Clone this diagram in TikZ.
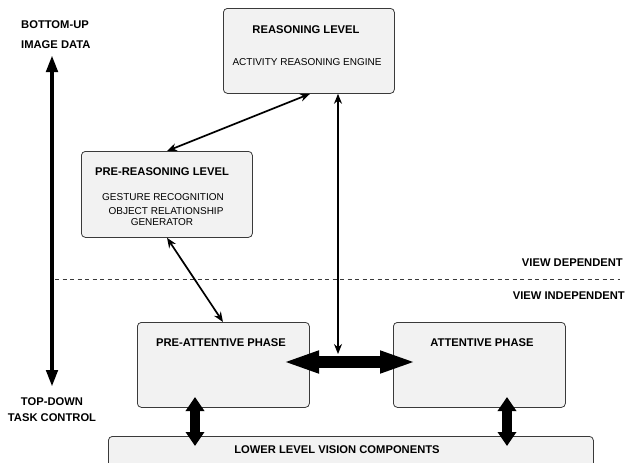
\documentclass[tikz,border=0pt]{standalone}
\usepackage{fontspec}
\setmainfont{Liberation Sans}
\usetikzlibrary{arrows.meta}
\definecolor{boxfill}{HTML}{F2F2F2}
\definecolor{boxline}{HTML}{3A3A3A}
\tikzset{
  box/.style={draw=boxline, fill=boxfill, line width=0.8pt, rounded corners=4pt, anchor=north west, inner sep=0pt},
  title/.style={font=\fontsize{11.2}{13}\selectfont\bfseries, inner sep=0pt},
  sub/.style={font=\fontsize{10}{12}\selectfont, inner sep=0pt, align=center},
  thinarrow/.style={line width=1.7pt, {Stealth[length=10pt,width=8pt]}-{Stealth[length=10pt,width=8pt]}},
}
\begin{document}
\begin{tikzpicture}[x=1pt,y=-1pt]
\useasboundingbox (0,0) rectangle (627,463);
% boxes
\node[box, minimum width=171pt, minimum height=85pt] (rl) at (223,8) {};
\node[box, minimum width=171pt, minimum height=86pt] (pr) at (81,151) {};
\node[box, minimum width=172pt, minimum height=85pt] (pa) at (137,322) {};
\node[box, minimum width=172pt, minimum height=85pt] (at) at (393,322) {};
\node[box, minimum width=485pt, minimum height=40pt] (low) at (108,436) {};
% texts
\node[title] (rlt) at (306,30) {REASONING LEVEL};
\node[sub] (rls) at (307,62) {ACTIVITY REASONING ENGINE};
\node[title] (prt) at (162,172) {PRE-REASONING LEVEL};
\node[sub] (prs1) at (163,197) {GESTURE RECOGNITION};
\node[sub] (prs2) at (166,211) {OBJECT RELATIONSHIP};
\node[sub] (prs3) at (162,222) {GENERATOR};
\node[title] (pat) at (221,343) {PRE-ATTENTIVE PHASE};
\node[title] (att) at (482,343) {ATTENTIVE PHASE};
\node[title] (lowt) at (337,450) {LOWER LEVEL VISION COMPONENTS};
\node[title, anchor=west] (bu1) at (21,25) {BOTTOM-UP};
\node[title, anchor=west] (bu2) at (21,45) {IMAGE DATA};
\node[title] (td1) at (52,402) {TOP-DOWN};
\node[title] (td2) at (52,418) {TASK CONTROL};
\node[title, anchor=east] (vd) at (623,263) {VIEW DEPENDENT};
\node[title, anchor=east] (vi) at (625,296) {VIEW INDEPENDENT};
% coordinates
\coordinate (ltop) at (52,55);
\coordinate (lbot) at (52,387);
\coordinate (dl) at (55,279);
\coordinate (dr) at (620,279);
\coordinate (hl) at (282,362);
\coordinate (hr) at (417,362);
\coordinate (vtip) at (338,354);
\coordinate (pad) at (195,397);
\coordinate (lowa) at (195,446);
\coordinate (atd) at (507,397);
\coordinate (lowb) at (507,446);
% dashed separator
\draw[boxline, line width=0.9pt, dash pattern=on 4pt off 3.5pt] (dl) -- (dr);
% left thick arrow
\draw[line width=4.5pt, {Triangle[length=17pt,width=11pt]}-{Triangle[length=17pt,width=11pt]}] (ltop) -- (lbot);
% thin connectors
\draw[thinarrow] (rl.south -| 310,0) -- (pr.north -| 167,0);
\draw[thinarrow] (pr.south -| 167,0) -- (pa.north -| 223,0);
% big horizontal arrow
\draw[line width=12pt, {Triangle[length=37pt,width=20pt]}-{Triangle[length=37pt,width=20pt]}] (hl) -- (hr);
\draw[line width=1.4pt, {Stealth[length=10pt,width=8pt]}-{Stealth[length=10pt,width=8pt]}] (rl.south -| vtip) -- (vtip);
% vertical thick arrows to lower level
\draw[line width=10pt, {Triangle[length=14pt,width=18pt]}-{Triangle[length=14pt,width=18pt]}] (pad) -- (lowa);
\draw[line width=10pt, {Triangle[length=14pt,width=18pt]}-{Triangle[length=14pt,width=18pt]}] (atd) -- (lowb);
\end{tikzpicture}
\end{document}
